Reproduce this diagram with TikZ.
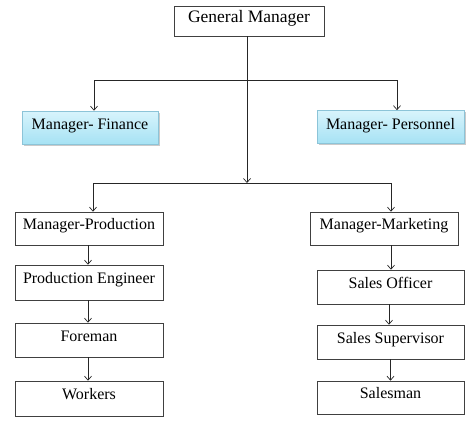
\documentclass[tikz,border=0pt]{standalone}
\usepackage{fontspec}
\setmainfont{Liberation Serif}
\usetikzlibrary{arrows.meta,shadows}
\definecolor{cyantop}{HTML}{D8F4FC}
\definecolor{cyanbot}{HTML}{A6E2F4}
\definecolor{cyanline}{HTML}{8CC4D8}
\tikzset{
  box/.style={draw=black!75, line width=0.6pt, fill=white, minimum height=34pt, inner sep=0pt, text height=11pt, text depth=9pt, font=\fontsize{16}{18}\selectfont},
  bluebox/.style={draw=cyanline, line width=0.6pt, top color=cyantop, bottom color=cyanbot, minimum height=33pt, inner sep=0pt, text height=11pt, text depth=7pt, font=\fontsize{16}{18}\selectfont,
     drop shadow={shadow xshift=1.5pt, shadow yshift=-1.5pt, fill=black!35, opacity=0.6}},
  conn/.style={draw=black!85, line width=0.7pt},
  arr/.style={conn, -{Straight Barb[length=4pt, width=7pt]}}
}
\begin{document}
\begin{tikzpicture}[x=1pt,y=-1pt]
\useasboundingbox (0,0) rectangle (476,436);
% nodes
\node[box, minimum width=150pt, minimum height=30pt, font=\fontsize{17.5}{19}\selectfont, text height=12pt, text depth=8pt] (gm) at (249,21) {General Manager};
\node[bluebox, minimum width=136pt] (fin) at (90,127.5) {Manager- Finance};
\node[bluebox, minimum width=147pt] (per) at (390.5,127) {Manager- Personnel};
\node[box, minimum width=148pt, minimum height=33pt] (mp) at (89,228.5) {Manager-Production};
\node[box, minimum width=148pt, minimum height=35pt] (pe) at (89,282.5) {Production Engineer};
\node[box, minimum width=148pt, minimum height=34pt] (fo) at (89,340) {Foreman};
\node[box, minimum width=148pt, minimum height=35pt] (wo) at (89,398.5) {Workers};
\node[box, minimum width=148pt, minimum height=33pt] (mm) at (384,228.5) {Manager-Marketing};
\node[box, minimum width=147pt, minimum height=34pt] (so) at (390.5,287) {Sales Officer};
\node[box, minimum width=147pt, minimum height=34pt] (ss) at (390.5,342) {Sales Supervisor};
\node[box, minimum width=147pt, minimum height=33pt] (sm) at (390.5,397.5) {Salesman};
% coordinates
\coordinate (j1) at (247,80);
\coordinate (j2) at (247,183);
\coordinate (fl) at (94,80);
\coordinate (pr) at (397,80);
\coordinate (ml) at (93,183);
\coordinate (mr) at (391,183);
% connectors
\draw[arr] (gm.south -| j1) -- (j2);
\draw[conn] (fl) -- (pr);
\draw[arr] (fl) -- (fl |- fin.north);
\draw[arr] (pr) -- (pr |- per.north);
\draw[conn] (ml) -- (mr);
\draw[arr] (ml) -- (ml |- mp.north);
\draw[arr] (mr) -- (mr |- mm.north);
\draw[arr] ([xshift=-1pt]mp.south) -- ([xshift=-1pt]pe.north);
\draw[arr] ([xshift=-1pt]pe.south) -- ([xshift=-1pt]fo.north);
\draw[arr] ([xshift=-1pt]fo.south) -- ([xshift=-1pt]wo.north);
\draw[arr] (mr |- mm.south) -- (mr |- so.north);
\draw[arr] ([xshift=-1.5pt]so.south) -- ([xshift=-1.5pt]ss.north);
\draw[arr] (ss.south) -- (sm.north);
\end{tikzpicture}
\end{document}
